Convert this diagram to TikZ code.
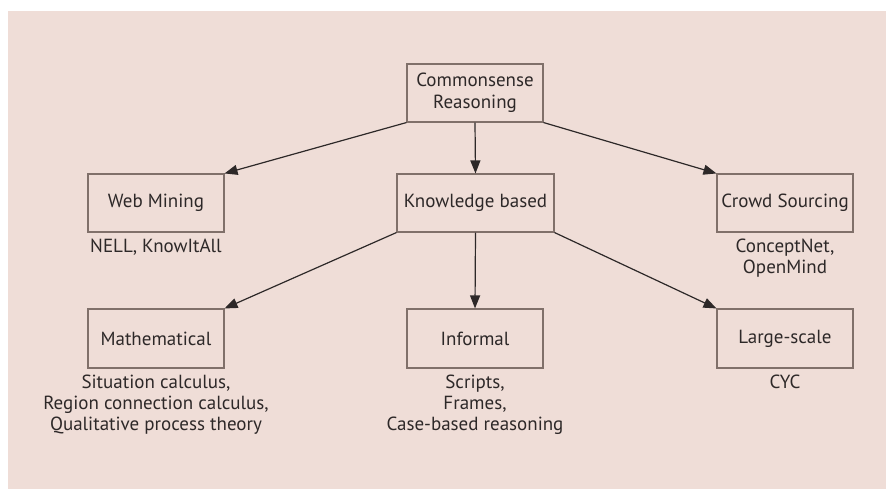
\documentclass[tikz,border=0pt]{standalone}
\usepackage{fontspec}
\setmainfont{PT Sans}
\usetikzlibrary{arrows.meta}
\definecolor{bgpink}{RGB}{239,221,215}
\definecolor{inkgray}{RGB}{45,40,40}
\definecolor{boxline}{RGB}{128,112,106}
\begin{document}
\begin{tikzpicture}[x=1pt,y=-1pt,
  catbox/.style={draw=boxline,line width=1.1pt,minimum width=136pt,minimum height=58pt,
    inner sep=0pt,text=inkgray,font=\fontsize{19}{22}\selectfont,align=center},
  examples/.style={text=inkgray,font=\fontsize{19}{21}\selectfont,align=center,inner sep=0pt},
  link/.style={draw=inkgray,line width=1.2pt,-{Triangle[length=13pt,width=10pt]}}]
  \useasboundingbox (0,0) rectangle (886,489);
  \fill[white] (0,0) rectangle (886,489);
  \fill[bgpink] (8,11) rectangle (886,489);

  % category boxes
  \node[catbox] (cr) at (475,93) {Commonsense\\Reasoning};
  \node[catbox] (wm) at (156,203) {Web Mining};
  \node[catbox,minimum width=157pt] (kb) at (475.5,203) {Knowledge based};
  \node[catbox] (cs) at (785,203) {Crowd Sourcing};
  \node[catbox,minimum height=59pt] (ma) at (156,338.5) {Mathematical};
  \node[catbox,minimum height=59pt] (in) at (475,338.5) {Informal};
  \node[catbox,minimum height=59pt] (ls) at (785,338.5) {Large-scale};

  % example systems under each box
  \node[examples,anchor=north] (wmx) at (156,239) {NELL, KnowItAll};
  \node[examples,anchor=north] (csx) at (785,239) {ConceptNet,\\OpenMind};
  \node[examples,anchor=north] (max) at (156,375) {Situation calculus,\\Region connection calculus,\\Qualitative process theory};
  \node[examples,anchor=north] (inx) at (475,375) {Scripts,\\Frames,\\Case-based reasoning};
  \node[examples,anchor=north] (lsx) at (785,375) {CYC};

  % hierarchy
  \draw[link] (cr.south west) -- (wm.north east);
  \draw[link] (cr.south) -- (kb.north);
  \draw[link] (cr.south east) -- (cs.north west);
  \draw[link] (kb.south west) -- (ma.north east);
  \draw[link] (kb.south) -- (in.north);
  \draw[link] (kb.south east) -- (ls.north west);
\end{tikzpicture}
\end{document}
